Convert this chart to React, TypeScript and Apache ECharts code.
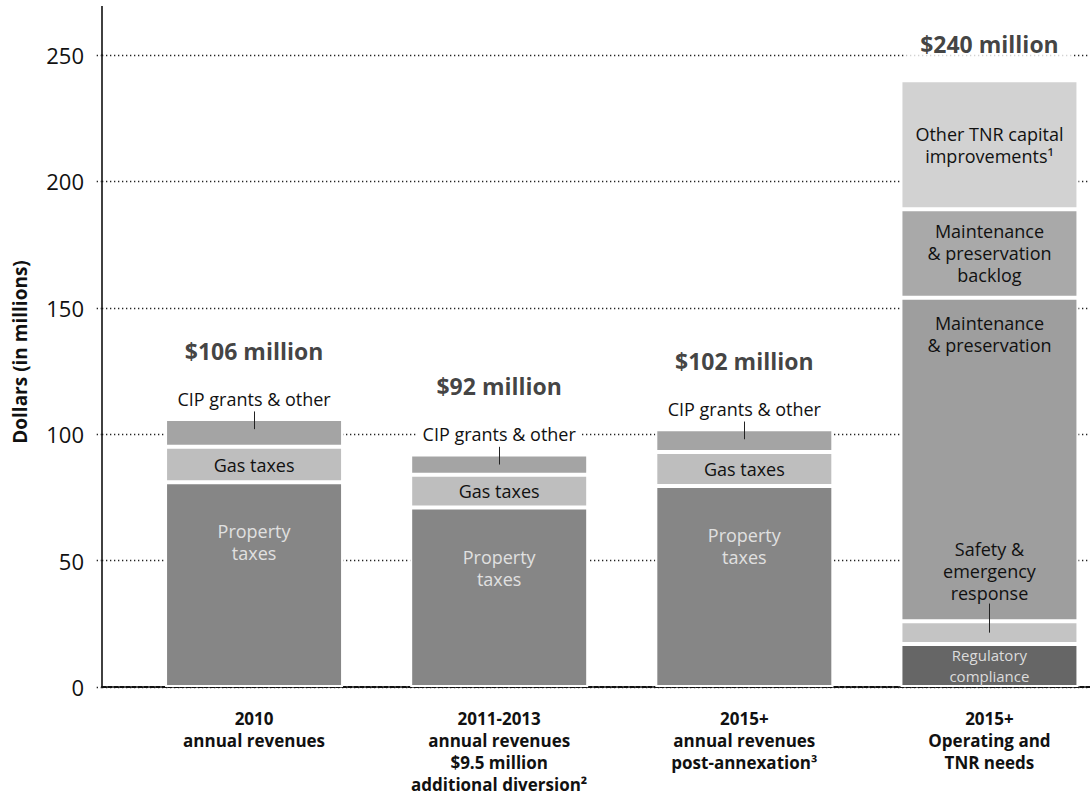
import React, { useEffect, useRef } from 'react';
import * as echarts from 'echarts';

const categories = [
  '2010\nannual revenues',
  '2011-2013\nannual revenues\n$9.5 million\nadditional diversion²',
  '2015+\nannual revenues\npost-annexation³',
  '2015+\nOperating and\nTNR needs',
];
const yTicks = [0, 50, 100, 150, 200, 250];

// Revenue components (millions)
const propertyTaxes = [81, 71, 79.5, null];
const gasTaxes = [14, 13, 13.5, null];
const cipGrants = [11, 8, 9, null];

// Needs components (millions)
const regulatoryCompliance = [null, null, null, 17];
const safetyEmergency = [null, null, null, 9];
const maintenancePreservation = [null, null, null, 128];
const maintenanceBacklog = [null, null, null, 35];
const otherTnrCapital = [null, null, null, 51];

const FONT = "'Open Sans', 'DejaVu Sans', sans-serif";
const INK = '#111';

const allSeries = [propertyTaxes, gasTaxes, cipGrants, regulatoryCompliance, safetyEmergency, maintenancePreservation, maintenanceBacklog, otherTnrCapital];
const totals = categories.map((_, i) => allSeries.reduce((s, arr) => s + (arr[i] ?? 0), 0));

const toData = (arr: (number | null)[]) => arr.map((v) => (v == null ? '-' : v));

function seg(name: string, data: (number | null)[], color: string, label: any, extra: any = {}) {
  return {
    name,
    type: 'bar',
    stack: 'total',
    xAxisIndex: 1,
    yAxisIndex: 1,
    barWidth: 178,
    data: toData(data),
    itemStyle: { color, borderColor: '#fff', borderWidth: 2 },
    label: { show: true, fontFamily: FONT, fontSize: 18, lineHeight: 22, color: INK, ...label },
    emphasis: { disabled: true },
    silent: true,
    ...extra,
  };
}

function leader(points: [number, number, number][]) {
  return {
    silent: true,
    symbol: ['none', 'none'],
    label: { show: false },
    lineStyle: { color: '#222', width: 1, type: 'solid' },
    emphasis: { disabled: true },
    data: points.map(([i, a, b]) => [{ coord: [i, a] }, { coord: [i, b] }]),
  };
}

export default function App() {
  const ref = useRef<HTMLDivElement>(null);
  useEffect(() => {
    if (!ref.current) return;
    const chart = echarts.init(ref.current, undefined, { renderer: 'svg' });
    const yMin = yTicks[0];
    const yMax = yTicks[yTicks.length - 1];
    const yInterval = yTicks[1] - yTicks[0];

    const option: any = {
      animation: false,
      backgroundColor: '#fff',
      textStyle: { fontFamily: FONT },
      grid: [
        { left: 102, right: 0, top: 55, bottom: 110, containLabel: false, outerBoundsMode: 'none' },
        { left: 131.5, right: -22, top: 55, bottom: 110, containLabel: false, outerBoundsMode: 'none' },
      ],
      xAxis: [
        {
          type: 'value', gridIndex: 0, min: 0, max: 1,
          axisLine: { show: true, onZero: false, lineStyle: { color: INK, width: 2, type: [4, 2] } },
          axisTick: { show: false }, axisLabel: { show: false }, splitLine: { show: false },
        },
        {
          type: 'category', gridIndex: 1, data: categories,
          axisLine: { show: false }, axisTick: { show: false },
          axisLabel: {
            interval: 0, fontFamily: FONT, fontSize: 17, fontWeight: 'bold', lineHeight: 22,
            color: INK, margin: 20, verticalAlign: 'top',
          },
        },
      ],
      yAxis: [
        {
          type: 'value', gridIndex: 0, min: yMin, max: yMax, interval: yInterval,
          axisLine: { show: true, onZero: false, lineStyle: { color: INK, width: 1.6 } },
          axisTick: { show: true, length: 8, lineStyle: { color: '#222', width: 1.3, type: [1.3, 2.7] } },
          axisLabel: { fontFamily: FONT, fontSize: 22, color: INK, margin: 18 },
          splitLine: { show: true, lineStyle: { color: '#222', width: 1.3, type: [1.3, 2.7] } },
        },
        { type: 'value', gridIndex: 1, min: yMin, max: yMax, interval: yInterval, show: false },
      ],
      graphic: [
        { type: 'line', shape: { x1: 102, y1: 6, x2: 102, y2: 56 }, style: { stroke: INK, lineWidth: 1.6 }, silent: true },
        {
          type: 'text', x: 20, y: 352, rotation: Math.PI / 2, silent: true,
          style: {
            text: 'Dollars (in millions)', fontFamily: FONT, fontSize: 19, fontWeight: 'bold', fill: INK,
            textAlign: 'center', textVerticalAlign: 'middle',
          },
        },
      ],
      series: [
        seg('Property taxes', propertyTaxes, '#868686', {
          position: 'insideTop', distance: 38, formatter: 'Property\ntaxes', color: '#e0e0e0',
        }),
        seg('Gas taxes', gasTaxes, '#bebebe', { position: 'inside', formatter: 'Gas taxes' }),
        seg('CIP grants & other', cipGrants, '#a4a4a4', {
          position: 'top', distance: 9, formatter: 'CIP grants & other', backgroundColor: '#fff', padding: [0, 6],
        }, { markLine: leader(totals.slice(0, 3).map((t, i) => [i, t + 3, t - 4] as [number, number, number])) }),
        seg('Regulatory compliance', regulatoryCompliance, '#666666', {
          position: 'inside', formatter: 'Regulatory\ncompliance', color: '#dcdcdc', fontSize: 15, lineHeight: 21,
        }),
        seg('Safety & emergency response', safetyEmergency, '#c4c4c4', {
          position: 'top', distance: 17, formatter: 'Safety &\nemergency\nresponse',
        }, {
          markLine: leader([[3, regulatoryCompliance[3]! + safetyEmergency[3]! + 7, regulatoryCompliance[3]! + 4.5]]),
        }),
        seg('Maintenance & preservation', maintenancePreservation, '#9e9e9e', {
          position: 'insideTop', distance: 14, formatter: 'Maintenance\n& preservation',
        }),
        seg('Maintenance & preservation backlog', maintenanceBacklog, '#a9a9a9', {
          position: 'inside', formatter: 'Maintenance\n& preservation\nbacklog',
        }),
        seg('Other TNR capital improvements', otherTnrCapital, '#d2d2d2', {
          position: 'inside', formatter: 'Other TNR capital\nimprovements¹',
        }),
        {
          name: 'Totals',
          type: 'scatter',
          xAxisIndex: 1,
          yAxisIndex: 1,
          symbolSize: 1,
          silent: true,
          itemStyle: { color: 'rgba(0,0,0,0)' },
          emphasis: { disabled: true },
          z: 5,
          label: {
            show: true, position: 'top', fontFamily: FONT, fontSize: 23, fontWeight: 'bold', color: INK,
            formatter: (p: any) => '$' + p.value + ' million',
          },
          data: totals.map((v, i) => ({
            value: v,
            label: i < 3 ? { distance: 56 } : { distance: 20, backgroundColor: '#fff', padding: [4, 14] },
          })),
        },
      ],
    };
    chart.setOption(option);
    return () => chart.dispose();
  }, []);
  return <div ref={ref} style={{ position: 'absolute', left: 0, top: 0, width: 1090, height: 797 }} />;
}
